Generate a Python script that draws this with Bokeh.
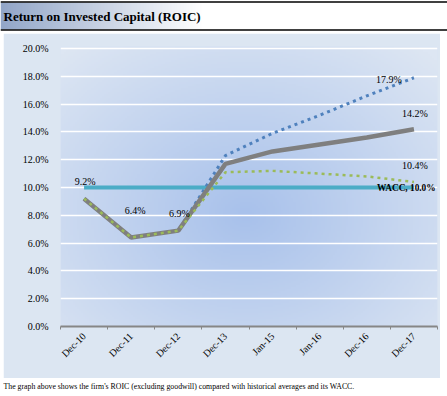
import numpy as np
from math import pi
from bokeh.plotting import figure
from bokeh.layouts import column
from bokeh.models import (Range1d, LinearAxis, FixedTicker, PrintfTickFormatter, Label, Span)
from bokeh.embed import file_html
from bokeh.resources import INLINE

# ---------------- data ----------------
categories = ["Dec-10", "Dec-11", "Dec-12", "Dec-13", "Jan-15", "Jan-16", "Dec-16", "Dec-17"]
roic = [9.2, 6.4, 6.9, 11.7, 12.6, 13.1, 13.6, 14.2]
roic_high = [9.2, 6.4, 6.9, 12.3, 13.9, 15.2, 16.6, 17.9]
roic_low = [9.2, 6.4, 6.9, 11.1, 11.2, 11.0, 10.8, 10.4]
wacc = [10.0, 10.0, 10.0, 10.0, 10.0, 10.0, 10.0, 10.0]
y_ticks = [0, 2, 4, 6, 8, 10, 12, 14, 16, 18, 20]
title_text = "Return on Invested Capital (ROIC)"
caption_text = ("The graph above shows the firm's ROIC (excluding goodwill) compared with "
                "historical averages and its WACC.")

SERIF = "Liberation Serif"
W = 447
n = len(categories)
xpos = [i + 0.5 for i in range(n)]          # category centres
bounds = [float(i) for i in range(n + 1)]   # category boundaries


def rgba_image(rgb, ny, nx):
    arr = np.zeros((ny, nx, 4), dtype=np.uint8)
    arr[..., :3] = np.clip(rgb, 0, 255).astype(np.uint8)
    arr[..., 3] = 255
    return arr.view(dtype=np.uint32).reshape((ny, nx))


# ---------------- title bar ----------------
TH = 31
t = figure(width=W, height=TH, x_range=Range1d(0, W), y_range=Range1d(0, TH),
           output_backend="svg", toolbar_location=None, title=None,
           x_axis_location=None, y_axis_location=None, min_border=0,
           outline_line_color=None, background_fill_color="white",
           border_fill_color="white", frame_align=False)
t.grid.visible = False
nxg = 300
u = np.linspace(0, 1, nxg)
f = np.clip(u / 0.45, 0, 1)[None, :, None]
left_c = np.array([146, 166, 200], dtype=float)
white = np.array([255, 255, 255], dtype=float)
bar = left_c * (1 - f) + white * f
bar = np.repeat(bar, 2, axis=0)
t.image_rgba(image=[rgba_image(bar, 2, nxg)], x=0, y=2, dw=W, dh=27)
t.add_layout(Span(location=29.5, dimension="width", line_color="black", line_width=1.5))
t.add_layout(Span(location=1.5, dimension="width", line_color="black", line_width=1.5))
t.add_layout(Label(x=3, y=15.5, text=title_text, text_font=SERIF, text_font_style="bold",
                   text_font_size="13px", text_baseline="middle", text_color="black"))

# ---------------- main chart ----------------
y_top = 20.15
p = figure(width=437, height=345,
           x_range=Range1d(0, n), y_range=Range1d(0, y_top),
           output_backend="svg", toolbar_location=None, title=None,
           x_axis_location=None, y_axis_location="left",
           min_border_left=57, min_border_right=3, min_border_top=13, min_border_bottom=52,
           margin=(2, 7, 0, 3), frame_align=False,
           border_fill_color="#dce6f2", background_fill_color="#c8d7ee",
           outline_line_color=None)

# radial background gradient inside plot area
gy, gx = 140, 180
xx = np.linspace(0, 1, gx)[None, :]
yy = np.linspace(0, 1, gy)[:, None]
tt = np.sqrt(((xx - 0.49) / 0.72) ** 2 + ((yy - 0.40) / 0.78) ** 2)
tt = np.clip(tt, 0, 1)[..., None]
center_c = np.array([168, 193, 235], dtype=float)
edge_c = np.array([221, 230, 243], dtype=float)
grad = center_c * (1 - tt) + edge_c * tt
p.image_rgba(image=[rgba_image(grad, gy, gx)], x=0, y=0, dw=n, dh=y_top, level="image")

p.xgrid.visible = False
p.ygrid.grid_line_color = "white"
p.ygrid.grid_line_width = 1.5
p.ygrid.ticker = FixedTicker(ticks=y_ticks)

ya = p.yaxis[0]
ya.ticker = FixedTicker(ticks=y_ticks)
ya.formatter = PrintfTickFormatter(format="%.1f%%")
ya.axis_line_color = None
ya.major_tick_line_color = None
ya.minor_tick_line_color = None
ya.major_label_text_font = SERIF
ya.major_label_text_font_size = "10px"
ya.major_label_text_color = "black"
ya.major_label_standoff = 6

tick_axis = LinearAxis(ticker=FixedTicker(ticks=bounds),
                       axis_line_color="#868686", axis_line_width=2,
                       major_tick_line_color="#868686", major_tick_in=0, major_tick_out=3,
                       minor_tick_line_color=None, major_label_text_font_size="1px",
                       major_label_text_alpha=0, major_label_standoff=0)
p.add_layout(tick_axis, "below")
cat_axis = LinearAxis(ticker=FixedTicker(ticks=xpos),
                      major_label_overrides={x: c for x, c in zip(xpos, categories)},
                      axis_line_color=None, major_tick_line_color=None,
                      major_tick_in=0, major_tick_out=0, minor_tick_line_color=None,
                      major_label_orientation=pi / 4, major_label_text_font=SERIF,
                      major_label_text_font_size="10px", major_label_text_color="black",
                      major_label_standoff=5)
p.add_layout(cat_axis, "below")

# series
p.line(xpos, wacc, line_color="#4bacc6", line_width=4)
p.line(xpos, roic_high, line_color="#4f81bd", line_width=3, line_dash="3 4")
p.line(xpos, roic, line_color="#7f7f7f", line_width=4.5)
p.line(xpos, roic_low, line_color="#9bbb59", line_width=2.5, line_dash="3 4")

# data labels: (series, index, x_offset, y_offset, align)
label_specs = [
    (roic, 0, 1, 17.5, "center"),
    (roic, 1, 4, 27, "center"),
    (roic, 2, 1, 17.5, "center"),
    (roic_high, 7, -25, -2, "center"),
    (roic, 7, 1, 16, "center"),
    (roic_low, 7, 1, 16, "center"),
]
for series, i, dx, dy, align in label_specs:
    p.add_layout(Label(x=xpos[i], y=series[i], text=f"{series[i]:.1f}%",
                       x_offset=dx, y_offset=dy, text_align=align, text_baseline="middle",
                       text_font=SERIF, text_font_size="10px", text_color="black"))
last = n - 1
p.add_layout(Label(x=xpos[last], y=wacc[last], text=f"WACC, {wacc[last]:.1f}%",
                   x_offset=-37, y_offset=0, text_align="left", text_baseline="middle",
                   text_font=SERIF, text_font_size="9.3px", text_font_style="bold",
                   text_color="black"))

# ---------------- caption ----------------
CH = 18
c = figure(width=W, height=CH, x_range=Range1d(0, W), y_range=Range1d(0, CH),
           output_backend="svg", toolbar_location=None, title=None,
           x_axis_location=None, y_axis_location=None, min_border=0,
           outline_line_color=None, background_fill_color="white",
           border_fill_color="white", frame_align=False)
c.grid.visible = False
c.add_layout(Label(x=3, y=10, text=caption_text, text_font=SERIF, text_font_size="7.8px",
                   text_baseline="middle", text_color="black"))

layout = column(t, p, c, spacing=0)
open("out.html", "w").write(file_html(layout, INLINE))
